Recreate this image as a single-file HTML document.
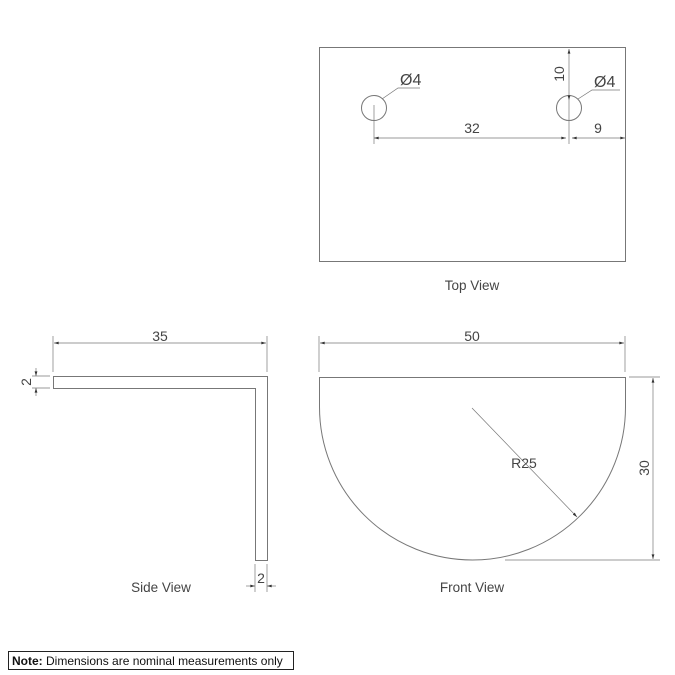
<!DOCTYPE html>
<html><head><meta charset="utf-8"><style>
html,body{margin:0;padding:0;background:#fff}
svg{display:block}
text{font-family:"Liberation Sans",sans-serif;fill:#444}
</style></head><body>
<svg width="675" height="675" viewBox="0 0 675 675" xmlns="http://www.w3.org/2000/svg">
<defs>
<marker id="a" viewBox="0 0 10 6" refX="10" refY="3" markerWidth="7" markerHeight="4" orient="auto-start-reverse"><path d="M0,0 L10,3 L0,6 z" fill="#333"/></marker>
</defs>
<g fill="none" stroke="#777" stroke-width="1">
<rect x="319.5" y="47.5" width="306" height="214"/>
<circle cx="374" cy="108" r="12.5"/>
<circle cx="569" cy="108" r="12.5"/>
<line x1="374" y1="105" x2="374" y2="144" stroke-width="0.7"/>
<line x1="569" y1="100" x2="569" y2="144" stroke-width="0.7"/>
<line x1="374" y1="138" x2="566" y2="138" stroke-width="0.7" marker-start="url(#a)" marker-end="url(#a)"/>
<line x1="572" y1="138" x2="625" y2="138" stroke-width="0.7" marker-start="url(#a)" marker-end="url(#a)"/>
<line x1="569" y1="49" x2="569" y2="100" stroke-width="0.7" marker-start="url(#a)" marker-end="url(#a)"/>
<polyline points="382,99 398,88 420,88" stroke-width="0.7"/>
<polyline points="578,99 592,90 620,90" stroke-width="0.7"/>
<path d="M53.5,376.5 H267.5 V560.5 H255.5 V388.5 H53.5 Z"/>
<line x1="53" y1="336" x2="53" y2="372" stroke-width="0.7"/>
<line x1="267" y1="336" x2="267" y2="372" stroke-width="0.7"/>
<line x1="54" y1="343" x2="266" y2="343" stroke-width="0.7" marker-start="url(#a)" marker-end="url(#a)"/>
<line x1="32" y1="376" x2="50" y2="376" stroke-width="0.7"/>
<line x1="32" y1="388" x2="50" y2="388" stroke-width="0.7"/>
<line x1="36" y1="368" x2="36" y2="376" stroke-width="0.7" marker-end="url(#a)"/>
<line x1="36" y1="396" x2="36" y2="388" stroke-width="0.7" marker-end="url(#a)"/>
<line x1="255" y1="564" x2="255" y2="592" stroke-width="0.7"/>
<line x1="267" y1="564" x2="267" y2="592" stroke-width="0.7"/>
<line x1="246" y1="586" x2="255" y2="586" stroke-width="0.7" marker-end="url(#a)"/>
<line x1="276" y1="586" x2="267" y2="586" stroke-width="0.7" marker-end="url(#a)"/>
<path d="M319.5,377.5 H625.5 V407 A153,153 0 0 1 319.5,407 Z"/>
<line x1="319" y1="336" x2="319" y2="372" stroke-width="0.7"/>
<line x1="625" y1="336" x2="625" y2="372" stroke-width="0.7"/>
<line x1="320" y1="343" x2="624" y2="343" stroke-width="0.7" marker-start="url(#a)" marker-end="url(#a)"/>
<line x1="472" y1="408" x2="577" y2="517" stroke-width="0.7" marker-end="url(#a)"/>
<line x1="629" y1="377" x2="660" y2="377" stroke-width="0.7"/>
<line x1="505" y1="560" x2="660" y2="560" stroke-width="0.7"/>
<line x1="653" y1="378" x2="653" y2="559" stroke-width="0.7" marker-start="url(#a)" marker-end="url(#a)"/>
<rect x="8.5" y="651.5" width="285" height="18" stroke="#222"/>
</g>
<g font-size="14">
<text x="400" y="85" font-size="16">Ø4</text>
<text x="594" y="87" font-size="16">Ø4</text>
<text x="472" y="133" text-anchor="middle">32</text>
<text x="598" y="133" text-anchor="middle">9</text>
<text x="0" y="0" transform="translate(564,74) rotate(-90)" text-anchor="middle">10</text>
<text x="472" y="290" text-anchor="middle" font-size="13.5">Top View</text>
<text x="160" y="341" text-anchor="middle">35</text>
<text x="0" y="0" transform="translate(31,382) rotate(-90)" text-anchor="middle">2</text>
<text x="261" y="583" text-anchor="middle">2</text>
<text x="161" y="592" text-anchor="middle" font-size="13.5">Side View</text>
<text x="472" y="341" text-anchor="middle">50</text>
<text x="524" y="468" text-anchor="middle">R25</text>
<text x="0" y="0" transform="translate(649,468) rotate(-90)" text-anchor="middle">30</text>
<text x="472" y="592" text-anchor="middle" font-size="13.5">Front View</text>
<text x="12" y="665" font-size="12" style="fill:#111"><tspan font-weight="bold">Note:</tspan> Dimensions are nominal measurements only</text>
</g>
</svg>
</body></html>
